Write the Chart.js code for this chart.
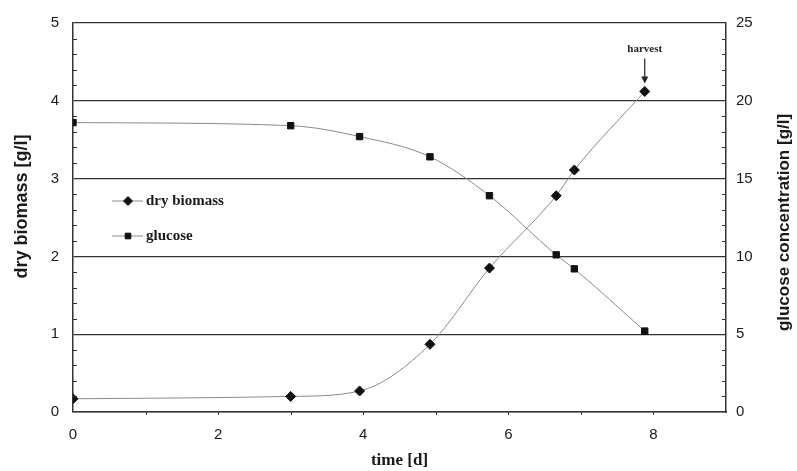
<!DOCTYPE html>
<html>
<head>
<meta charset="utf-8">
<script src="https://cdn.jsdelivr.net/npm/chart.js@4.4.1/dist/chart.umd.min.js"></script>
<style>
  html, body { margin: 0; padding: 0; background: #ffffff; }
  #wrap { width: 797px; height: 471px; }
</style>
</head>
<body>
<div id="wrap"><canvas id="c" width="797" height="471"></canvas></div>
<script>
// ---- data ----
const days = [0, 3.0, 3.95, 4.92, 5.74, 6.66, 6.91, 7.88];
const dryBiomass = [0.17, 0.20, 0.27, 0.87, 1.85, 2.78, 3.11, 4.12];
const glucose = [18.6, 18.4, 17.7, 16.4, 13.9, 10.1, 9.2, 5.2];
const xTicks = [0, 2, 4, 6, 8];
const yLeftTicks = [0, 1, 2, 3, 4, 5];
const yRightTicks = [0, 5, 10, 15, 20, 25];
const seriesNames = ['dry biomass', 'glucose'];
const leftTitle = 'dry biomass [g/l]';
const rightTitle = 'glucose concentration [g/l]';
const bottomTitle = 'time [d]';
const harvestLabel = 'harvest';
const harvestIndex = days.length - 1;

const SERIF = '"Liberation Serif", "Times New Roman", serif';
const SANS = '"Liberation Sans", Arial, sans-serif';
const LINE = '#333333';

const toPts = (ys) => days.map((d, i) => ({ x: d, y: ys[i] }));

const extras = {
  id: 'extras',
  afterDraw(chart) {
    const ctx = chart.ctx;
    const ca = chart.chartArea;
    const xs = chart.scales.x, yl = chart.scales.y, yr = chart.scales.y1;
    ctx.save();
    ctx.strokeStyle = LINE;
    ctx.lineWidth = 1;
    // minor ticks left (every 0.2)
    for (let k = 1; k < 25; k++) {
      if (k % 5 === 0) continue;
      const py = Math.round(yl.getPixelForValue(k * 0.2)) + 0.5;
      ctx.beginPath(); ctx.moveTo(ca.left, py); ctx.lineTo(ca.left + 4, py); ctx.stroke();
    }
    // minor ticks right (every 1)
    for (let k = 1; k < 25; k++) {
      if (k % 5 === 0) continue;
      const py = Math.round(yr.getPixelForValue(k)) + 0.5;
      ctx.beginPath(); ctx.moveTo(ca.right - 4, py); ctx.lineTo(ca.right, py); ctx.stroke();
    }
    // bottom ticks (every 1)
    for (let k = 1; k < 9; k++) {
      const px = Math.round(xs.getPixelForValue(k)) + 0.5;
      ctx.beginPath(); ctx.moveTo(px, ca.bottom); ctx.lineTo(px, ca.bottom + 3); ctx.stroke();
    }
    // legend
    const lx = ca.left + 39, ly0 = ca.top + 178, gap = 35;
    const styles = ['rectRot', 'rect'];
    seriesNames.forEach((name, i) => {
      const y = ly0 + i * gap;
      ctx.strokeStyle = '#888888';
      ctx.lineWidth = 1;
      ctx.beginPath(); ctx.moveTo(lx, y); ctx.lineTo(lx + 31, y); ctx.stroke();
      ctx.fillStyle = '#111111';
      ctx.strokeStyle = '#111111';
      Chart.helpers.drawPoint(ctx, { pointStyle: styles[i], radius: i === 0 ? 4.5 : 4, rotation: 0, borderWidth: 1 }, lx + 16, y);
      ctx.fillStyle = '#1a1a1a';
      ctx.font = 'bold 15px ' + SERIF;
      ctx.textBaseline = 'middle';
      ctx.textAlign = 'left';
      ctx.fillText(name, lx + 34, y);
    });
    // harvest annotation
    const hx = xs.getPixelForValue(days[harvestIndex]);
    const hy = yl.getPixelForValue(dryBiomass[harvestIndex]);
    ctx.strokeStyle = '#222222';
    ctx.fillStyle = '#222222';
    ctx.lineWidth = 1.2;
    ctx.beginPath(); ctx.moveTo(hx, hy - 33); ctx.lineTo(hx, hy - 12); ctx.stroke();
    ctx.beginPath(); ctx.moveTo(hx - 3.5, hy - 15); ctx.lineTo(hx + 3.5, hy - 15); ctx.lineTo(hx, hy - 8); ctx.closePath(); ctx.fill();
    ctx.font = 'bold 11px ' + SERIF;
    ctx.textAlign = 'center';
    ctx.textBaseline = 'middle';
    ctx.fillText(harvestLabel, hx, hy - 42);
    // vertical axis titles (both read bottom-to-top)
    const cy = (ca.top + ca.bottom) / 2;
    ctx.fillStyle = '#1a1a1a';
    ctx.font = 'bold 18px ' + SANS;
    ctx.textAlign = 'center';
    ctx.textBaseline = 'middle';
    ctx.save();
    ctx.translate(ca.left - 51, cy - 11);
    ctx.rotate(-Math.PI / 2);
    ctx.fillText(leftTitle, 0, 0);
    ctx.restore();
    ctx.font = 'bold 17px ' + SANS;
    ctx.save();
    ctx.translate(ca.right + 58, cy + 5);
    ctx.rotate(-Math.PI / 2);
    ctx.fillText(rightTitle, 0, 0);
    ctx.restore();
    ctx.restore();
  }
};

new Chart(document.getElementById('c'), {
  type: 'scatter',
  data: {
    datasets: [
      {
        label: seriesNames[0],
        data: toPts(dryBiomass),
        yAxisID: 'y',
        showLine: true,
        cubicInterpolationMode: 'monotone',
        borderColor: '#8a8a8a',
        borderWidth: 1,
        pointStyle: 'rectRot',
        pointRadius: 5,
        pointBackgroundColor: '#111111',
        pointBorderColor: '#111111',
        pointBorderWidth: 1
      },
      {
        label: seriesNames[1],
        data: toPts(glucose),
        yAxisID: 'y1',
        showLine: true,
        cubicInterpolationMode: 'monotone',
        borderColor: '#8a8a8a',
        borderWidth: 1,
        pointStyle: 'rect',
        pointRadius: 4.5,
        pointBackgroundColor: '#111111',
        pointBorderColor: '#111111',
        pointBorderWidth: 1
      }
    ]
  },
  options: {
    responsive: false,
    animation: false,
    devicePixelRatio: 1,
    layout: { padding: { top: 20, left: 0, right: 0, bottom: 0 } },
    plugins: { legend: { display: false }, tooltip: { enabled: false } },
    scales: {
      x: {
        type: 'linear',
        min: 0, max: 9,
        afterBuildTicks: (s) => { s.ticks = xTicks.map(v => ({ value: v })); },
        afterFit: (s) => { s.height = 59; },
        grid: { display: false, drawTicks: false },
        border: { display: true, color: LINE, width: 1.5 },
        ticks: { color: '#1a1a1a', font: { family: SANS, size: 15 }, padding: 14, maxRotation: 0 },
        title: { display: true, text: bottomTitle, color: '#1a1a1a', font: { family: SERIF, size: 17, weight: 'bold' }, padding: { top: 1, bottom: 0 } }
      },
      y: {
        type: 'linear',
        position: 'left',
        min: 0, max: 5,
        afterBuildTicks: (s) => { s.ticks = yLeftTicks.map(v => ({ value: v })); },
        afterFit: (s) => { s.width = 73; },
        grid: { display: true, color: LINE, lineWidth: 1.3, drawTicks: false },
        border: { display: true, color: LINE, width: 1.5 },
        ticks: { color: '#1a1a1a', font: { family: SANS, size: 15 }, padding: 14 },
        title: { display: false }
      },
      y1: {
        type: 'linear',
        position: 'right',
        min: 0, max: 25,
        afterBuildTicks: (s) => { s.ticks = yRightTicks.map(v => ({ value: v })); },
        afterFit: (s) => { s.width = 71; },
        grid: { display: false, drawTicks: false },
        border: { display: true, color: LINE, width: 1.5 },
        ticks: { color: '#1a1a1a', font: { family: SANS, size: 15 }, padding: 10 },
        title: { display: false }
      }
    }
  },
  plugins: [extras]
});
</script>
</body>
</html>
